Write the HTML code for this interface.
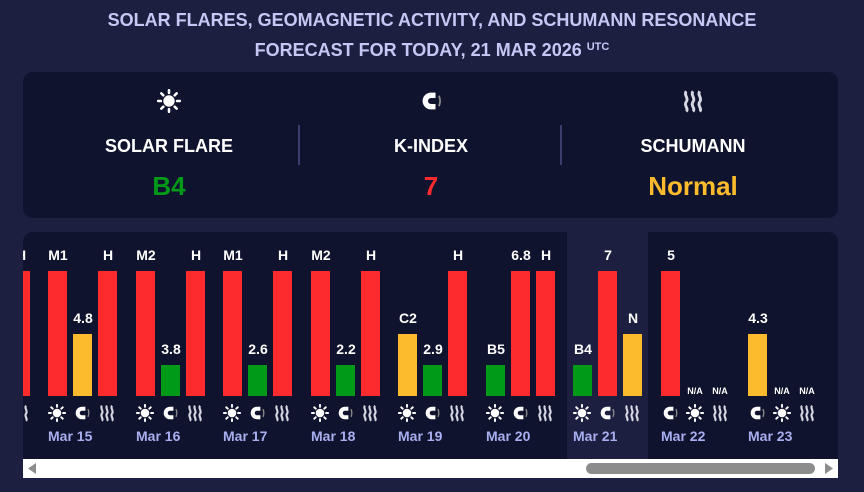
<!DOCTYPE html>
<html><head><meta charset="utf-8"><style>
*{margin:0;padding:0;box-sizing:border-box}
body{width:864px;height:492px;background:#1d1f41;font-family:"Liberation Sans",sans-serif;font-weight:bold;position:relative;overflow:hidden;color:#fff}
.t{position:absolute;left:0;width:864px;text-align:center;color:#c5c8f5;font-size:18px;line-height:22px}
.t sup{font-size:11px;vertical-align:6px}
.p1{position:absolute;left:23px;top:72px;width:815px;height:146px;background:#10132d;border-radius:10px}
.c{position:absolute;width:262px;text-align:center}
.c .n{font-size:18px;line-height:22px;position:absolute;top:63px;width:100%}
.c .v{font-size:26px;line-height:30px;position:absolute;top:99px;width:100%}
.c svg{position:absolute;left:119px;top:17px}
.dv{position:absolute;top:53px;width:2px;height:40px;background:#3c3f6e}
.p2{position:absolute;left:23px;top:232px;width:815px;height:227px;background:#10132d;border-radius:10px 10px 0 0;overflow:hidden}
.hl{position:absolute;left:544px;top:0;width:81px;height:227px;background:#1d1f41}
.b{position:absolute;width:19px;bottom:63px}
.R{background:#fd2b2e;height:125px}.Y{background:#fcbb2c;height:62px}.G{background:#009a18;height:31px}
.l{position:absolute;width:40px;text-align:center;font-size:14px;line-height:16px}
.na{position:absolute;width:30px;text-align:center;font-size:9px;line-height:10px;top:154px}
.i{position:absolute;top:172px}
.d{position:absolute;top:196px;font-size:14px;line-height:16px;color:#a9aef0;white-space:nowrap}
.sb{position:absolute;left:23px;top:459px;width:815px;height:19px;background:#fff}
</style></head><body>
<svg width="0" height="0" style="position:absolute">
<defs>
<g id="sun"><circle cx="8" cy="8" r="3.8" fill="#fff"/><g stroke="#fff" stroke-width="1.7" stroke-linecap="round"><path d="M8 0.8V2.6M8 13.4V15.2M0.8 8H2.6M13.4 8H15.2M2.9 2.9L4.2 4.2M11.8 11.8L13.1 13.1M2.9 13.1L4.2 11.8M11.8 4.2L13.1 2.9"/></g></g>
<g id="mag"><path d="M11 4.2H8A3.8 3.8 0 0 0 8 11.8H11" fill="none" stroke="#fff" stroke-width="3.6"/><path d="M13.3 4.5Q14.8 8 13.3 11.5" fill="none" stroke="#888" stroke-width="1.2"/></g>
<g id="wav"><g fill="none" stroke="#d8d8e4" stroke-width="1.9"><path d="M3.5 1.5C1.5 4 5.5 6 3.5 8.5S5.5 13 3.5 15"/><path d="M8 1.5C6 4 10 6 8 8.5S10 13 8 15"/><path d="M12.5 1.5C10.5 4 14.5 6 12.5 8.5S14.5 13 12.5 15"/></g></g>
</defs>
</svg>
<div class="t" style="top:9px">SOLAR FLARES, GEOMAGNETIC ACTIVITY, AND SCHUMANN RESONANCE</div>
<div class="t" style="top:36px">FORECAST FOR TODAY, 21 MAR 2026 <sup>UTC</sup></div>
<div class="p1">
<div class="c" style="left:15px"><svg width="24" height="24" viewBox="0 0 16 16"><use href="#sun"/></svg><div class="n">SOLAR FLARE</div><div class="v" style="color:#009a18">B4</div></div>
<div class="dv" style="left:275px"></div>
<div class="c" style="left:277px"><svg width="24" height="24" viewBox="0 0 16 16"><use href="#mag"/></svg><div class="n">K-INDEX</div><div class="v" style="color:#fd2b2e">7</div></div>
<div class="dv" style="left:537px"></div>
<div class="c" style="left:539px"><svg width="24" height="24" viewBox="0 0 16 16"><use href="#wav"/></svg><div class="n">SCHUMANN</div><div class="v" style="color:#fcbb2c">Normal</div></div>
</div>
<div class="p2">
<div class="hl"></div>
<div class="b R" style="left:-12px"></div><div class="l" style="left:-22px;top:15px">H</div><svg class="i" style="left:-11px" width="18" height="18" viewBox="0 0 16 16"><use href="#wav"/></svg>

<div class="b R" style="left:25px"></div><div class="l" style="left:15px;top:15px">M1</div>
<div class="b Y" style="left:50px"></div><div class="l" style="left:40px;top:78px">4.8</div>
<div class="b R" style="left:75px"></div><div class="l" style="left:65px;top:15px">H</div>
<svg class="i" style="left:25px" width="18" height="18" viewBox="0 0 16 16"><use href="#sun"/></svg><svg class="i" style="left:50px" width="18" height="18" viewBox="0 0 16 16"><use href="#mag"/></svg><svg class="i" style="left:75px" width="18" height="18" viewBox="0 0 16 16"><use href="#wav"/></svg>
<div class="d" style="left:25px">Mar 15</div>

<div class="b R" style="left:113px"></div><div class="l" style="left:103px;top:15px">M2</div>
<div class="b G" style="left:138px"></div><div class="l" style="left:128px;top:109px">3.8</div>
<div class="b R" style="left:163px"></div><div class="l" style="left:153px;top:15px">H</div>
<svg class="i" style="left:113px" width="18" height="18" viewBox="0 0 16 16"><use href="#sun"/></svg><svg class="i" style="left:138px" width="18" height="18" viewBox="0 0 16 16"><use href="#mag"/></svg><svg class="i" style="left:163px" width="18" height="18" viewBox="0 0 16 16"><use href="#wav"/></svg>
<div class="d" style="left:113px">Mar 16</div>

<div class="b R" style="left:200px"></div><div class="l" style="left:190px;top:15px">M1</div>
<div class="b G" style="left:225px"></div><div class="l" style="left:215px;top:109px">2.6</div>
<div class="b R" style="left:250px"></div><div class="l" style="left:240px;top:15px">H</div>
<svg class="i" style="left:200px" width="18" height="18" viewBox="0 0 16 16"><use href="#sun"/></svg><svg class="i" style="left:225px" width="18" height="18" viewBox="0 0 16 16"><use href="#mag"/></svg><svg class="i" style="left:250px" width="18" height="18" viewBox="0 0 16 16"><use href="#wav"/></svg>
<div class="d" style="left:200px">Mar 17</div>

<div class="b R" style="left:288px"></div><div class="l" style="left:278px;top:15px">M2</div>
<div class="b G" style="left:313px"></div><div class="l" style="left:303px;top:109px">2.2</div>
<div class="b R" style="left:338px"></div><div class="l" style="left:328px;top:15px">H</div>
<svg class="i" style="left:288px" width="18" height="18" viewBox="0 0 16 16"><use href="#sun"/></svg><svg class="i" style="left:313px" width="18" height="18" viewBox="0 0 16 16"><use href="#mag"/></svg><svg class="i" style="left:338px" width="18" height="18" viewBox="0 0 16 16"><use href="#wav"/></svg>
<div class="d" style="left:288px">Mar 18</div>

<div class="b Y" style="left:375px"></div><div class="l" style="left:365px;top:78px">C2</div>
<div class="b G" style="left:400px"></div><div class="l" style="left:390px;top:109px">2.9</div>
<div class="b R" style="left:425px"></div><div class="l" style="left:415px;top:15px">H</div>
<svg class="i" style="left:375px" width="18" height="18" viewBox="0 0 16 16"><use href="#sun"/></svg><svg class="i" style="left:400px" width="18" height="18" viewBox="0 0 16 16"><use href="#mag"/></svg><svg class="i" style="left:425px" width="18" height="18" viewBox="0 0 16 16"><use href="#wav"/></svg>
<div class="d" style="left:375px">Mar 19</div>

<div class="b G" style="left:463px"></div><div class="l" style="left:453px;top:109px">B5</div>
<div class="b R" style="left:488px"></div><div class="l" style="left:478px;top:15px">6.8</div>
<div class="b R" style="left:513px"></div><div class="l" style="left:503px;top:15px">H</div>
<svg class="i" style="left:463px" width="18" height="18" viewBox="0 0 16 16"><use href="#sun"/></svg><svg class="i" style="left:488px" width="18" height="18" viewBox="0 0 16 16"><use href="#mag"/></svg><svg class="i" style="left:513px" width="18" height="18" viewBox="0 0 16 16"><use href="#wav"/></svg>
<div class="d" style="left:463px">Mar 20</div>

<div class="b G" style="left:550px"></div><div class="l" style="left:540px;top:109px">B4</div>
<div class="b R" style="left:575px"></div><div class="l" style="left:565px;top:15px">7</div>
<div class="b Y" style="left:600px"></div><div class="l" style="left:590px;top:78px">N</div>
<svg class="i" style="left:550px" width="18" height="18" viewBox="0 0 16 16"><use href="#sun"/></svg><svg class="i" style="left:575px" width="18" height="18" viewBox="0 0 16 16"><use href="#mag"/></svg><svg class="i" style="left:600px" width="18" height="18" viewBox="0 0 16 16"><use href="#wav"/></svg>
<div class="d" style="left:550px">Mar 21</div>

<div class="b R" style="left:638px"></div><div class="l" style="left:628px;top:15px">5</div>
<div class="na" style="left:657px">N/A</div><div class="na" style="left:682px">N/A</div>
<svg class="i" style="left:638px" width="18" height="18" viewBox="0 0 16 16"><use href="#mag"/></svg><svg class="i" style="left:663px" width="18" height="18" viewBox="0 0 16 16"><use href="#sun"/></svg><svg class="i" style="left:688px" width="18" height="18" viewBox="0 0 16 16"><use href="#wav"/></svg>
<div class="d" style="left:638px">Mar 22</div>

<div class="b Y" style="left:725px"></div><div class="l" style="left:715px;top:78px">4.3</div>
<div class="na" style="left:744px">N/A</div><div class="na" style="left:769px">N/A</div>
<svg class="i" style="left:725px" width="18" height="18" viewBox="0 0 16 16"><use href="#mag"/></svg><svg class="i" style="left:750px" width="18" height="18" viewBox="0 0 16 16"><use href="#sun"/></svg><svg class="i" style="left:775px" width="18" height="18" viewBox="0 0 16 16"><use href="#wav"/></svg>
<div class="d" style="left:725px">Mar 23</div>
</div>
<div class="sb">
<svg style="position:absolute;left:5px;top:4px" width="8" height="11"><path d="M8 0V11L0 5.5Z" fill="#8c8c8c"/></svg>
<div style="position:absolute;left:563px;top:4px;width:229px;height:11px;border-radius:6px;background:#8c8c8c"></div>
<svg style="position:absolute;left:802px;top:4px" width="8" height="11"><path d="M0 0V11L8 5.5Z" fill="#8c8c8c"/></svg>
</div>
</body></html>
